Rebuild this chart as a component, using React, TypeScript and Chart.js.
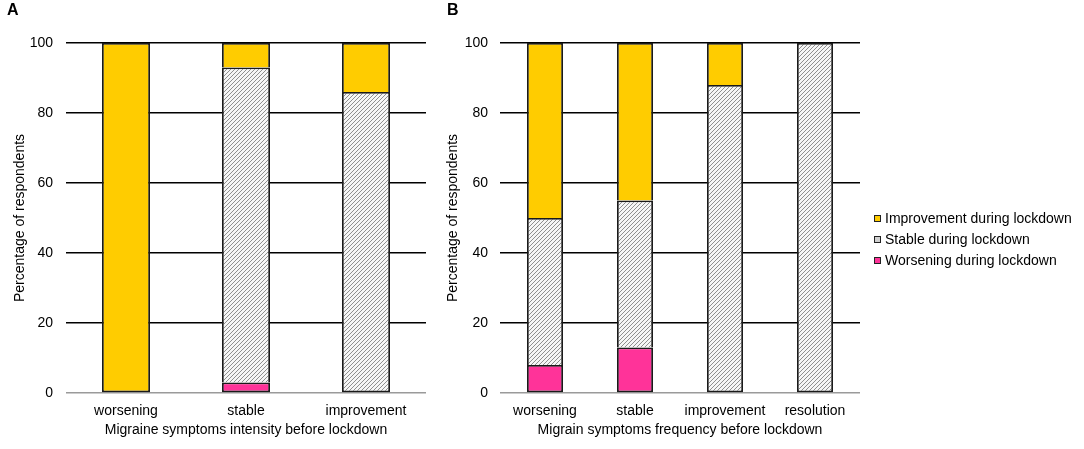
import React, { useEffect, useRef } from 'react';
import { Chart, registerables } from 'chart.js';

Chart.register(...registerables);

const intensityCategories = ['worsening', 'stable', 'improvement'];
const intensityWorsening = [0, 3, 0];
const intensityStable = [0, 90, 86];
const intensityImprovement = [100, 7, 14];

const frequencyCategories = ['worsening', 'stable', 'improvement', 'resolution'];
const frequencyWorsening = [8, 13, 0, 0];
const frequencyStable = [42, 42, 88, 100];
const frequencyImprovement = [50, 45, 12, 0];

const yTickValues = [0, 20, 40, 60, 80, 100];
const legendLabels = ['Improvement during lockdown', 'Stable during lockdown', 'Worsening during lockdown'];

const FONT = '"Liberation Sans", Arial, Helvetica, sans-serif';
const YELLOW = '#FFCC00';
const PINK = '#FF3399';
const EDGE = '#1a1a1a';
const EDGE_W = 1.8;

function makeHatch(): CanvasPattern | string {
  const c = document.createElement('canvas');
  c.width = 4;
  c.height = 4;
  const g = c.getContext('2d');
  if (!g) return '#ccc';
  g.fillStyle = '#f6f6f6';
  g.fillRect(0, 0, 4, 4);
  g.strokeStyle = '#8f8f8f';
  g.lineWidth = 1;
  g.beginPath();
  g.moveTo(-1, 5);
  g.lineTo(5, -1);
  g.moveTo(-1, 1);
  g.lineTo(1, -1);
  g.moveTo(3, 5);
  g.lineTo(5, 3);
  g.stroke();
  const p = g.createPattern(c, 'repeat');
  return p || '#ccc';
}

const nz = (arr: number[]) => arr.map((v) => (v === 0 ? null : v));

interface PanelProps {
  left: number;
  width: number;
  categories: string[];
  worsening: number[];
  stable: number[];
  improvement: number[];
  xTitle: string;
  yTitlePad: number;
  yTickPad: number;
  yAxisWidth: number;
  rightPad: number;
}

function Panel(props: PanelProps) {
  const ref = useRef<HTMLCanvasElement | null>(null);
  useEffect(() => {
    if (!ref.current) return;
    const hatch = makeHatch();
    const stackOrder = [props.worsening, props.stable, props.improvement];
    const edge = (ctx: any) => {
      let below = false;
      for (let d = 0; d < ctx.datasetIndex; d++) {
        if (stackOrder[d][ctx.dataIndex]) below = true;
      }
      return { top: EDGE_W, left: EDGE_W, right: EDGE_W, bottom: below ? 0 : EDGE_W };
    };
    const common = {
      borderColor: EDGE,
      borderWidth: edge as any,
      borderSkipped: false as const,
      categoryPercentage: 1,
      barPercentage: 0.4,
    };
    const chart = new Chart(ref.current, {
      type: 'bar',
      data: {
        labels: props.categories,
        datasets: [
          { label: legendLabels[2], data: nz(props.worsening), backgroundColor: PINK, ...common },
          { label: legendLabels[1], data: nz(props.stable), backgroundColor: hatch as any, ...common },
          { label: legendLabels[0], data: nz(props.improvement), backgroundColor: YELLOW, ...common },
        ],
      },
      options: {
        responsive: false,
        animation: false,
        layout: { padding: { top: 43, right: props.rightPad, bottom: 0, left: 0 } },
        plugins: { legend: { display: false }, tooltip: { enabled: false }, title: { display: false } },
        scales: {
          x: {
            stacked: true,
            grid: { display: false, drawTicks: false },
            border: { display: false },
            ticks: { color: '#000', font: { size: 14, family: FONT }, padding: 10, maxRotation: 0, autoSkip: false },
            title: {
              display: true,
              text: props.xTitle,
              color: '#000',
              font: { size: 14, family: FONT },
              padding: { top: 0, bottom: 10.5 },
            },
            afterFit: (s: any) => {
              s.height = 56;
            },
          },
          y: {
            stacked: true,
            min: 0,
            max: 100,
            afterBuildTicks: (s: any) => {
              s.ticks = yTickValues.map((v) => ({ value: v }));
            },
            grid: {
              drawTicks: false,
              lineWidth: 1.5,
              color: (ctx: any) => (ctx.tick && ctx.tick.value === 0 ? '#9a9a9a' : '#000'),
            },
            border: { display: false },
            ticks: { color: '#000', font: { size: 14, family: FONT }, padding: props.yTickPad },
            title: {
              display: true,
              text: 'Percentage of respondents',
              color: '#000',
              font: { size: 14, family: FONT },
              padding: { top: props.yTitlePad, bottom: 0 },
            },
            afterFit: (s: any) => {
              s.width = props.yAxisWidth;
            },
          },
        },
      },
    });
    return () => chart.destroy();
  }, []);
  return (
    <canvas
      ref={ref}
      width={props.width}
      height={449}
      style={{ position: 'absolute', left: props.left, top: 0, width: props.width, height: 449 }}
    />
  );
}

const legendSwatches = [YELLOW, '#d0d0d0', PINK];

export default function App() {
  return (
    <div style={{ position: 'absolute', left: 0, top: 0, width: 1084, height: 449, background: '#fff', fontFamily: FONT }}>
      <Panel
        left={0}
        width={440}
        categories={intensityCategories}
        worsening={intensityWorsening}
        stable={intensityStable}
        improvement={intensityImprovement}
        xTitle="Migraine symptoms intensity before lockdown"
        yTitlePad={11.6}
        yTickPad={13}
        yAxisWidth={66}
        rightPad={14}
      />
      <Panel
        left={440}
        width={440}
        categories={frequencyCategories}
        worsening={frequencyWorsening}
        stable={frequencyStable}
        improvement={frequencyImprovement}
        xTitle="Migrain symptoms frequency before lockdown"
        yTitlePad={4.6}
        yTickPad={12}
        yAxisWidth={60}
        rightPad={20}
      />
      <div style={{ position: 'absolute', left: 7, top: 2, fontSize: 16, lineHeight: '16px', fontWeight: 'bold' }}>A</div>
      <div style={{ position: 'absolute', left: 447, top: 2, fontSize: 16, lineHeight: '16px', fontWeight: 'bold' }}>B</div>
      <div style={{ position: 'absolute', left: 874, top: 207.5 }}>
        {legendLabels.map((l, i) => (
          <div key={l} style={{ display: 'flex', alignItems: 'center', height: 21, fontSize: 14, color: '#000', whiteSpace: 'nowrap' }}>
            <span
              style={{
                display: 'inline-block',
                width: 5,
                height: 5,
                border: '1.5px solid #222',
                background: legendSwatches[i],
                marginRight: 4,
              }}
            />
            {l}
          </div>
        ))}
      </div>
    </div>
  );
}
